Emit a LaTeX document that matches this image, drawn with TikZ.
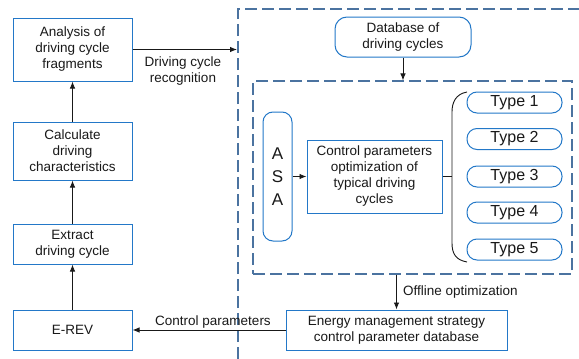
\documentclass[tikz,border=0pt]{standalone}
\usepackage{fontspec}
\setmainfont{Liberation Sans}
\usetikzlibrary{arrows.meta}
\definecolor{boxblue}{RGB}{35,120,200}
\definecolor{dashblue}{RGB}{75,115,160}
\definecolor{txt}{RGB}{25,25,25}
\begin{document}
\begin{tikzpicture}[x=1pt,y=-1pt,
  box/.style={draw=boxblue, line width=1pt, fill=white, align=center, inner sep=0pt, text=txt,
    font=\fontsize{13.5}{16}\selectfont},
  leftbox/.style={box, minimum width=119pt},
  typebox/.style={box, rounded corners=10pt, minimum width=95pt, minimum height=21pt,
    font=\fontsize{16}{18}\selectfont},
  dashbox/.style={draw=dashblue, line width=1.1pt, dash pattern=on 12pt off 5pt},
  arr/.style={-{Latex[length=7pt,width=5.5pt]}, line width=0.9pt, draw=txt},
  lbl/.style={text=txt, align=center, inner sep=0pt, font=\fontsize{13.5}{16}\selectfont}]
\useasboundingbox (0,0) rectangle (579,359);
% dashed containers
\draw[dashbox] (238,359) -- (238,9) -- (581,9);
\node[dashbox, minimum width=319pt, minimum height=193pt, inner sep=0pt] (inner) at (412.5,177.5) {};
% left column
\node[leftbox, minimum height=63pt] (ana) at (72.5,49.5) {Analysis of\\driving cycle\\fragments};
\node[leftbox, minimum height=58pt] (calc) at (72.5,151) {Calculate\\driving\\characteristics};
\node[leftbox, minimum height=40pt] (ext) at (72.5,244) {Extract\\driving cycle};
\node[leftbox, minimum height=40pt] (erev) at (72.5,330) {E-REV};
% right part
\node[box, rounded corners=12pt, minimum width=136pt, minimum height=40pt] (db) at (403,37) {Database of\\driving cycles};
\node[box, rounded corners=10pt, minimum width=29pt, minimum height=129pt,
  font=\fontsize{17}{23}\selectfont] (asa) at (277.5,176.5) {A\\S\\A};
\node[box, minimum width=135pt, minimum height=73pt] (ctrl) at (374.5,176.5) {Control parameters\\optimization of\\typical driving\\cycles};
\node[typebox] (t1) at (514.5,102.5) {Type 1};
\node[typebox] (t2) at (514.5,139) {Type 2};
\node[typebox] (t3) at (514.5,176.5) {Type 3};
\node[typebox] (t4) at (514.5,212.5) {Type 4};
\node[typebox] (t5) at (514.5,249.5) {Type 5};
\node[box, minimum width=221pt, minimum height=40pt] (ems) at (396.5,330) {Energy management strategy\\control parameter database};
% brace
\coordinate (brc) at (452,176.5);
\draw[line width=0.9pt, draw=txt] (467,92) .. controls (456,94) and (452,102) .. (452,112) -- (452,243) .. controls (452,254) and (456,260) .. (467,262);
% connectors
\draw[arr] (erev.north) -- (ext.south);
\draw[arr] (ext.north) -- (calc.south);
\draw[arr] (calc.north) -- (ana.south);
\coordinate (rec) at (237,49.5);
\draw[arr] (ana.east) -- (rec);
\node[lbl] (reclbl) at (183,71) {Driving cycle\\recognition};
\draw[arr] (db.south) -- (db.south |- inner.north);
\draw[arr] (asa.east) -- (ctrl.west);
\draw[line width=0.9pt, draw=txt] (ctrl.east) -- (brc);
\draw[arr] (ems.north |- inner.south) -- (ems.north);
\node[lbl, anchor=west] (offlbl) at (403,292) {Offline optimization};
\draw[arr] (ems.west) -- (erev.east);
\node[lbl] (cplbl) at (213,322) {Control parameters};
\end{tikzpicture}
\end{document}
